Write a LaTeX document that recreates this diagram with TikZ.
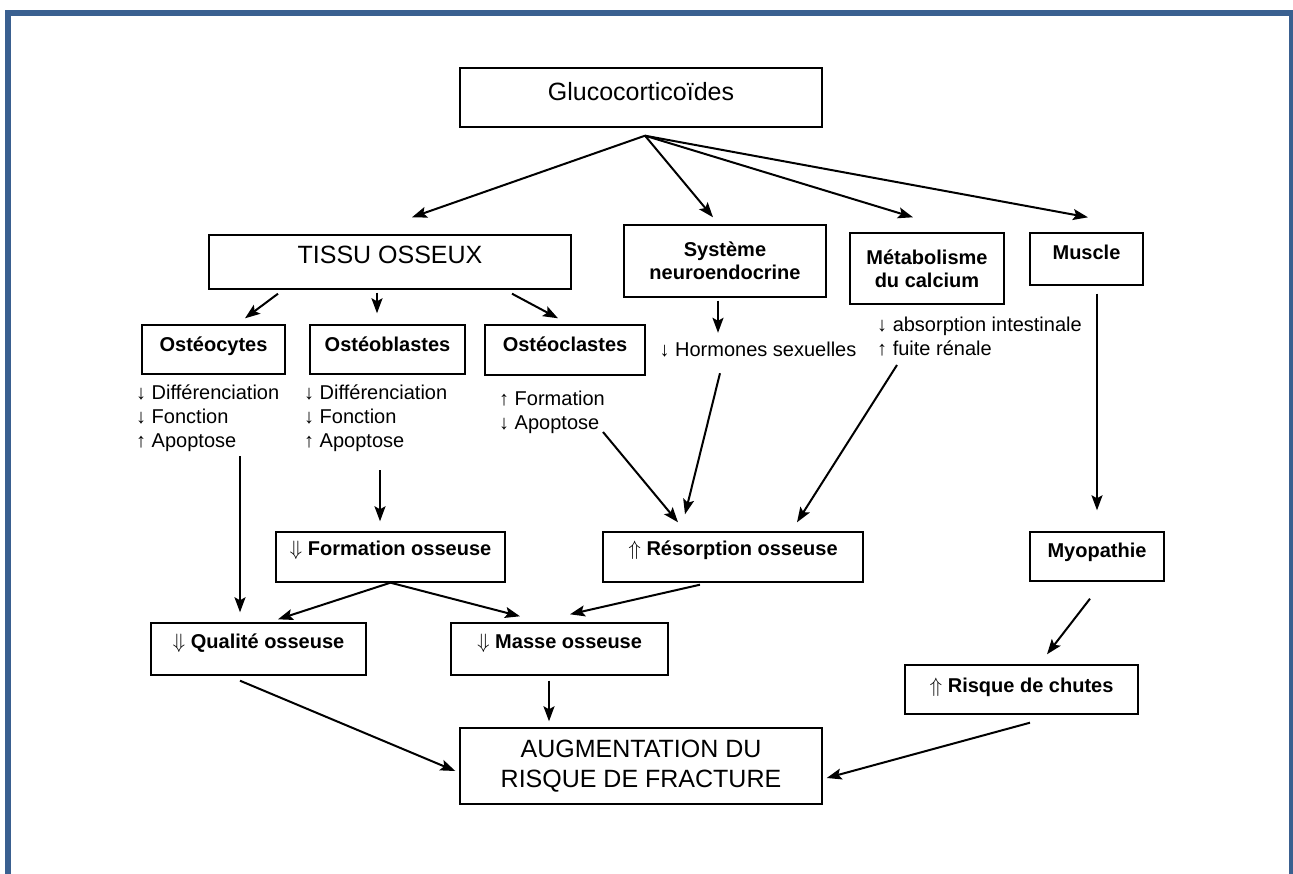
\documentclass[tikz,border=0pt]{standalone}
\usepackage{fontspec}
\setmainfont{Liberation Sans}
\usepackage{tikz}
\usetikzlibrary{arrows.meta,positioning}
\definecolor{frameblue}{RGB}{58,96,144}

\begin{document}
\begin{tikzpicture}[x=1pt, y=-1pt,
  box/.style={draw, line width=1.4pt, inner sep=0pt, align=center, font=\fontsize{20}{23}\selectfont\bfseries},
  bigbox/.style={box, font=\fontsize{25}{30}\selectfont},
  lst/.style={inner sep=0pt, align=left, font=\fontsize{20}{24}\selectfont},
  arr/.style={-{Stealth[length=15pt, width=11pt, inset=3pt]}, line width=2pt}
]
  \useasboundingbox[fill=white] (0,0) rectangle (1293,874);
  \draw[frameblue, line width=6pt, line join=miter] (8,874) -- (8,13) -- (1291.5,13) -- (1291.5,874);

  \node[bigbox, minimum width=362, text height=33, text depth=26] (gluco) at (641,97.5) {Glucocorticoïdes};
  \node[bigbox, minimum width=362, text height=29, text depth=25] (tissu) at (390,262) {TISSU OSSEUX};
  \node[box, minimum width=202, minimum height=72] (neuro) at (725,261) {Système\\neuroendocrine};
  \node[box, minimum width=154, minimum height=71] (calc) at (927,268.5) {Métabolisme\\du calcium};
  \node[box, minimum width=113, text height=27, text depth=25] (muscle) at (1086.5,259) {Muscle};

  \node[box, minimum width=143, text height=27, text depth=22] (ocyte) at (213.5,349.5) {Ostéocytes};
  \node[box, minimum width=155, text height=27, text depth=22] (oblast) at (387.5,349.5) {Ostéoblastes};
  \node[box, minimum width=160, text height=27, text depth=23] (oclast) at (565,350) {Ostéoclastes};

  \node[lst, anchor=north west] (ocytefx) at (136,385) {↓ Différenciation\\↓ Fonction\\↑ Apoptose};
  \node[lst, anchor=north west] (oblastfx) at (304,385) {↓ Différenciation\\↓ Fonction\\↑ Apoptose};
  \node[lst, anchor=north west] (oclastfx) at (499,391) {↑ Formation\\↓ Apoptose};
  \node[lst, text height=15, text depth=4] (hormones) at (758,351) {↓ Hormones sexuelles};
  \node[lst, anchor=north west] (calcfx) at (877,317) {↓ absorption intestinale\\↑ fuite rénale};

  \node[box, minimum width=229, text height=23, text depth=27] (form) at (390.5,557) {$\Downarrow$ Formation osseuse};
  \node[box, minimum width=260, text height=23, text depth=27] (resorp) at (733,557) {$\Uparrow$ Résorption osseuse};
  \node[box, minimum width=134, text height=25, text depth=24] (myo) at (1097,556.5) {Myopathie};
  \node[box, minimum width=215, text height=25, text depth=27] (qual) at (258.5,649) {$\Downarrow$ Qualité osseuse};
  \node[box, minimum width=217, text height=25, text depth=27] (masse) at (559.5,649) {$\Downarrow$ Masse osseuse};
  \node[box, minimum width=233, text height=27, text depth=22] (chutes) at (1021.5,689.5) {$\Uparrow$ Risque de chutes};
  \node[bigbox, minimum width=362, minimum height=76] (augm) at (641,766) {AUGMENTATION DU\\RISQUE DE FRACTURE};

  \draw[arr] ([xshift=4pt,yshift=-8pt]gluco.south) -- ([xshift=22pt,yshift=17pt]tissu.north);
  \draw[arr] ([xshift=4pt,yshift=-8pt]gluco.south) -- ([xshift=-12pt,yshift=7pt]neuro.north);
  \draw[arr] ([xshift=4pt,yshift=-8pt]gluco.south) -- ([xshift=-14pt,yshift=15pt]calc.north);
  \draw[arr] ([xshift=4pt,yshift=-8pt]gluco.south) -- ([xshift=1.5pt,yshift=15pt]muscle.north);

  \draw[arr] ([xshift=-112pt,yshift=-4pt]tissu.south) -- ([xshift=31.5pt,yshift=6pt]ocyte.north);
  \draw[arr] ([xshift=-13pt,yshift=-3pt]tissu.south) -- ([xshift=-10.5pt,yshift=11pt]oblast.north);
  \draw[arr] ([xshift=122pt,yshift=-4pt]tissu.south) -- ([xshift=-7pt,yshift=6pt]oclast.north);
  \draw[arr] ([xshift=-7pt,yshift=-3pt]neuro.south) -- ([xshift=-40pt,yshift=8.5pt]hormones.north);

  \draw[arr] ([xshift=104pt,yshift=-71pt]ocytefx.north west) -- ([xshift=-18.5pt,yshift=10pt]qual.north);
  \draw[arr] ([xshift=76pt,yshift=-85pt]oblastfx.north west) -- ([xshift=-10.5pt,yshift=10pt]form.north);
  \draw[arr] ([xshift=104pt,yshift=-41pt]oclastfx.north west) -- ([xshift=-55pt,yshift=9pt]resorp.north);
  \draw[arr] ([xshift=-38pt,yshift=-12.5pt]hormones.south) -- ([xshift=-48pt,yshift=17pt]resorp.north);
  \draw[arr] ([xshift=20pt,yshift=-48pt]calcfx.north west) -- ([xshift=64pt,yshift=9pt]resorp.north);
  \draw[arr] ([xshift=10.5pt,yshift=-8pt]muscle.south) -- ([yshift=21pt]myo.north);

  \draw[arr] (form.south) -- ([xshift=19.5pt,yshift=3pt]qual.north);
  \draw[arr] (form.south) -- ([xshift=-39.5pt,yshift=6pt]masse.north);
  \draw[arr] ([xshift=-33pt,yshift=-2pt]resorp.south) -- ([xshift=10.5pt,yshift=8pt]masse.north);
  \draw[arr] ([xshift=-7pt,yshift=-17pt]myo.south) -- ([xshift=25.5pt,yshift=10pt]chutes.north);

  \draw[arr] ([xshift=-18.5pt,yshift=-5pt]qual.south) -- ([xshift=-4pt,yshift=-5pt]augm.west);
  \draw[arr] ([xshift=-10.5pt,yshift=-5pt]masse.south) -- ([xshift=-92pt,yshift=6pt]augm.north);
  \draw[arr] ([xshift=8.5pt,yshift=-8pt]chutes.south) -- ([xshift=4pt,yshift=-12pt]augm.east);
\end{tikzpicture}
\end{document}
